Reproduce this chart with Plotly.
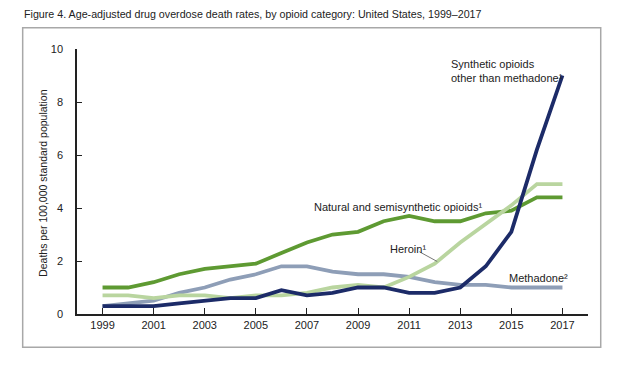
import plotly.graph_objects as go

years = list(range(1999, 2018))
natural = [1.0, 1.0, 1.2, 1.5, 1.7, 1.8, 1.9, 2.3, 2.7, 3.0, 3.1, 3.5, 3.7, 3.5, 3.5, 3.8, 3.9, 4.4, 4.4]
methadone = [0.3, 0.4, 0.5, 0.8, 1.0, 1.3, 1.5, 1.8, 1.8, 1.6, 1.5, 1.5, 1.4, 1.2, 1.1, 1.1, 1.0, 1.0, 1.0]
heroin = [0.7, 0.7, 0.6, 0.7, 0.7, 0.6, 0.7, 0.7, 0.8, 1.0, 1.1, 1.0, 1.4, 1.9, 2.7, 3.4, 4.1, 4.9, 4.9]
synthetic = [0.3, 0.3, 0.3, 0.4, 0.5, 0.6, 0.6, 0.9, 0.7, 0.8, 1.0, 1.0, 0.8, 0.8, 1.0, 1.8, 3.1, 6.2, 9.0]
x_ticks = [1999, 2001, 2003, 2005, 2007, 2009, 2011, 2013, 2015, 2017]
y_ticks = [0, 2, 4, 6, 8, 10]

FONT = "Liberation Sans, Arial, sans-serif"

fig = go.Figure()
series = [
    ("Methadone", methadone, "#8e9eb7"),
    ("Natural and semisynthetic opioids", natural, "#5e9a32"),
    ("Heroin", heroin, "#b9d59f"),
    ("Synthetic opioids other than methadone", synthetic, "#1c2b68"),
]
for name, vals, col in series:
    fig.add_trace(go.Scatter(x=years, y=vals, mode="lines", name=name,
                             line=dict(color=col, width=3.8), showlegend=False))

# page has an 8px body margin, so the figure is 612x357 placed at (8, 8)
fig.update_layout(
    width=612, height=357,
    margin=dict(l=69, r=32, t=41, b=50.5),
    paper_bgcolor="white", plot_bgcolor="white",
    font=dict(family=FONT, size=11, color="#222"),
    xaxis=dict(range=[1998, 2018], tickvals=x_ticks, ticks="inside", ticklen=6,
               tickcolor="#222", tickwidth=1.3, showline=True, linecolor="#222",
               linewidth=1.5, showgrid=False, zeroline=False,
               tickfont=dict(size=11, color="#222")),
    yaxis=dict(range=[0, 10], tickvals=y_ticks, ticks="inside", ticklen=5,
               tickcolor="#222", tickwidth=1.3, showline=True, linecolor="#222",
               linewidth=1.5, showgrid=False, zeroline=False,
               tickfont=dict(size=11, color="#222"), ticklabelstandoff=10),
)

# frame
fig.add_shape(type="rect", xref="paper", yref="paper",
              x0=-0.1063, x1=1.0249, y0=-0.125, y1=1.0802,
              line=dict(color="#a8a8a8", width=1.5), layer="below")

fig.add_annotation(xref="paper", yref="paper", x=-0.1077, y=1.1308,
                   xanchor="left", yanchor="middle", showarrow=False,
                   text="Figure 4. Age-adjusted drug overdose death rates, by opioid category: United States, 1999\u20132017",
                   font=dict(size=10.7, color="#222"))
fig.add_annotation(xref="paper", yref="paper", x=-0.0665, y=0.495,
                   textangle=-90, showarrow=False, xanchor="center", yanchor="middle",
                   text="Deaths per 100,000 standard population",
                   font=dict(size=10.5, color="#222"))

fig.add_annotation(x=2012.56, y=9.18, xref="x", yref="y", xanchor="left", yanchor="middle",
                   align="left", showarrow=False,
                   text="Synthetic opioids<br>other than methadone\u00b9",
                   font=dict(size=11, color="#222"))
fig.add_annotation(x=2007.2, y=4.05, xref="x", yref="y", xanchor="left", yanchor="middle",
                   showarrow=False, text="Natural and semisynthetic opioids\u00b9",
                   font=dict(size=11, color="#222"))
fig.add_annotation(x=2010.17, y=2.47, xref="x", yref="y", xanchor="left", yanchor="middle",
                   showarrow=False, text="Heroin\u00b9",
                   font=dict(size=11, color="#222"))
fig.add_shape(type="line", xref="x", yref="y", x0=2011.4, y0=2.35, x1=2012.1, y1=1.98,
              line=dict(color="#777", width=1))
fig.add_annotation(x=2017.3, y=1.34, xref="x", yref="y", xanchor="right", yanchor="middle",
                   showarrow=False, text="Methadone\u00b2",
                   font=dict(size=11, color="#222"))

fig.write_html("out.html")
